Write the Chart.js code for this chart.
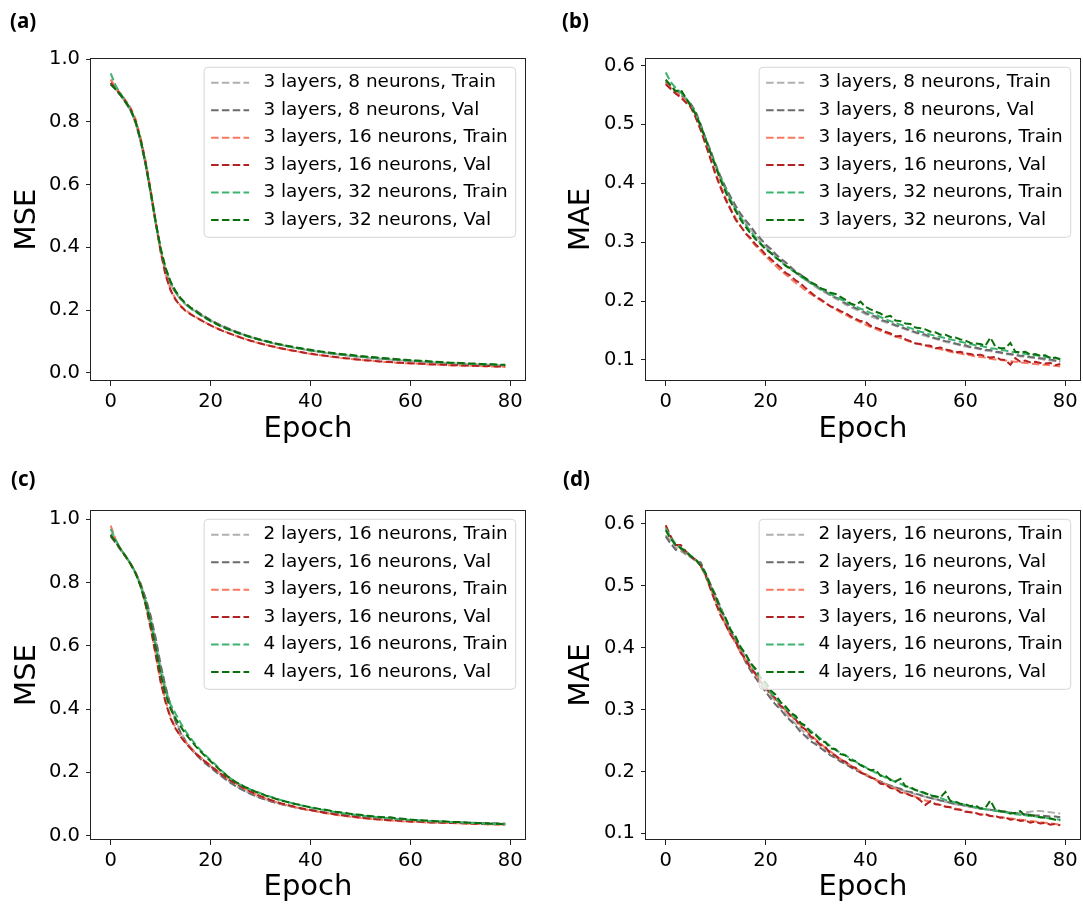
<!DOCTYPE html>
<html>
<head>
<meta charset="utf-8">
<script src="https://cdn.jsdelivr.net/npm/chart.js@4.4.1/dist/chart.umd.min.js"></script>
<style>
  html, body { margin: 0; padding: 0; background: #fff; }
  body { width: 1083px; height: 907px; position: relative; overflow: hidden; }
  canvas { position: absolute; }
</style>
</head>
<body>
<canvas id="panel-a" width="541" height="453" style="left:0;top:0"></canvas>
<canvas id="panel-b" width="542" height="453" style="left:541px;top:0"></canvas>
<canvas id="panel-c" width="541" height="454" style="left:0;top:453px"></canvas>
<canvas id="panel-d" width="542" height="454" style="left:541px;top:453px"></canvas>
<script>
const epochs = [0, 1, 2, 3, 4, 5, 6, 7, 8, 9, 10, 11, 12, 13, 14, 15, 16, 17, 18, 19,
  20, 21, 22, 23, 24, 25, 26, 27, 28, 29, 30, 31, 32, 33, 34, 35, 36, 37, 38, 39,
  40, 41, 42, 43, 44, 45, 46, 47, 48, 49, 50, 51, 52, 53, 54, 55, 56, 57, 58, 59,
  60, 61, 62, 63, 64, 65, 66, 67, 68, 69, 70, 71, 72, 73, 74, 75, 76, 77, 78, 79];

const xTicks = [0, 20, 40, 60, 80];
const mseTicks = [0.0, 0.2, 0.4, 0.6, 0.8, 1.0];
const maeTicks = [0.1, 0.2, 0.3, 0.4, 0.5, 0.6];

const labelsTop = ["3 layers, 8 neurons, Train", "3 layers, 8 neurons, Val",
  "3 layers, 16 neurons, Train", "3 layers, 16 neurons, Val",
  "3 layers, 32 neurons, Train", "3 layers, 32 neurons, Val"];
const labelsBottom = ["2 layers, 16 neurons, Train", "2 layers, 16 neurons, Val",
  "3 layers, 16 neurons, Train", "3 layers, 16 neurons, Val",
  "4 layers, 16 neurons, Train", "4 layers, 16 neurons, Val"];

// (a) MSE, neurons sweep
const aTrain8 = [0.935, 0.905, 0.885, 0.862, 0.835, 0.795, 0.735, 0.66, 0.57, 0.475, 0.39, 0.325,
  0.282, 0.254, 0.233, 0.217, 0.205, 0.196, 0.186, 0.176, 0.167, 0.159, 0.151, 0.144,
  0.137, 0.131, 0.125, 0.119, 0.114, 0.109, 0.104, 0.1, 0.096, 0.092, 0.089, 0.085,
  0.082, 0.079, 0.076, 0.073, 0.07, 0.068, 0.065, 0.063, 0.061, 0.059, 0.057, 0.055,
  0.053, 0.051, 0.05, 0.048, 0.047, 0.045, 0.044, 0.043, 0.041, 0.04, 0.039, 0.038,
  0.037, 0.036, 0.035, 0.034, 0.033, 0.032, 0.031, 0.031, 0.03, 0.029, 0.028, 0.028,
  0.027, 0.026, 0.026, 0.025, 0.025, 0.024, 0.024, 0.023];
const aVal8 = [0.92, 0.903, 0.884, 0.861, 0.836, 0.797, 0.738, 0.662, 0.572, 0.478, 0.392, 0.327,
  0.284, 0.256, 0.236, 0.22, 0.208, 0.199, 0.188, 0.178, 0.168, 0.16, 0.152, 0.145,
  0.138, 0.132, 0.126, 0.12, 0.115, 0.11, 0.105, 0.101, 0.097, 0.093, 0.089, 0.086,
  0.083, 0.08, 0.077, 0.074, 0.071, 0.068, 0.066, 0.064, 0.062, 0.06, 0.058, 0.056,
  0.054, 0.052, 0.051, 0.049, 0.048, 0.046, 0.045, 0.044, 0.042, 0.041, 0.04, 0.039,
  0.038, 0.037, 0.036, 0.035, 0.034, 0.033, 0.032, 0.031, 0.03, 0.03, 0.029, 0.028,
  0.028, 0.027, 0.026, 0.026, 0.025, 0.025, 0.024, 0.024];
const aTrain16 = [0.935, 0.91, 0.89, 0.868, 0.845, 0.808, 0.75, 0.675, 0.585, 0.485, 0.39, 0.315,
  0.265, 0.235, 0.214, 0.199, 0.188, 0.178, 0.169, 0.16, 0.151, 0.144, 0.137, 0.13,
  0.124, 0.118, 0.113, 0.107, 0.102, 0.097, 0.093, 0.089, 0.085, 0.081, 0.078, 0.075,
  0.071, 0.068, 0.066, 0.063, 0.06, 0.058, 0.056, 0.053, 0.051, 0.049, 0.047, 0.046,
  0.044, 0.042, 0.041, 0.039, 0.038, 0.037, 0.035, 0.034, 0.033, 0.032, 0.031, 0.03,
  0.029, 0.029, 0.028, 0.027, 0.026, 0.026, 0.025, 0.024, 0.024, 0.023, 0.023, 0.022,
  0.022, 0.021, 0.021, 0.02, 0.02, 0.02, 0.019, 0.019];
const aVal16 = [0.925, 0.905, 0.886, 0.864, 0.84, 0.8, 0.742, 0.668, 0.578, 0.48, 0.385, 0.31,
  0.262, 0.232, 0.212, 0.197, 0.186, 0.177, 0.168, 0.159, 0.151, 0.143, 0.136, 0.13,
  0.124, 0.118, 0.112, 0.107, 0.102, 0.098, 0.093, 0.089, 0.085, 0.082, 0.078, 0.075,
  0.072, 0.069, 0.066, 0.063, 0.061, 0.058, 0.056, 0.054, 0.052, 0.05, 0.048, 0.046,
  0.045, 0.043, 0.041, 0.04, 0.039, 0.037, 0.036, 0.035, 0.034, 0.033, 0.032, 0.031,
  0.03, 0.029, 0.029, 0.028, 0.027, 0.026, 0.026, 0.025, 0.024, 0.024, 0.023, 0.023,
  0.022, 0.022, 0.021, 0.021, 0.021, 0.02, 0.02, 0.02];
const aTrain32 = [0.955, 0.915, 0.89, 0.866, 0.84, 0.8, 0.74, 0.665, 0.575, 0.48, 0.395, 0.332,
  0.288, 0.258, 0.236, 0.219, 0.205, 0.194, 0.183, 0.173, 0.164, 0.156, 0.148, 0.141,
  0.135, 0.129, 0.123, 0.118, 0.113, 0.108, 0.104, 0.1, 0.096, 0.092, 0.089, 0.086,
  0.082, 0.079, 0.077, 0.074, 0.071, 0.069, 0.067, 0.064, 0.062, 0.06, 0.058, 0.057,
  0.055, 0.053, 0.052, 0.05, 0.049, 0.047, 0.046, 0.045, 0.043, 0.042, 0.041, 0.04,
  0.039, 0.038, 0.037, 0.036, 0.035, 0.034, 0.033, 0.032, 0.031, 0.031, 0.03, 0.029,
  0.028, 0.028, 0.027, 0.026, 0.026, 0.025, 0.025, 0.024];
const aVal32 = [0.92, 0.904, 0.886, 0.864, 0.839, 0.8, 0.742, 0.667, 0.577, 0.482, 0.397, 0.334,
  0.29, 0.26, 0.238, 0.221, 0.207, 0.196, 0.185, 0.175, 0.166, 0.157, 0.149, 0.142,
  0.136, 0.13, 0.124, 0.119, 0.114, 0.109, 0.105, 0.101, 0.097, 0.093, 0.09, 0.087,
  0.084, 0.081, 0.078, 0.075, 0.073, 0.07, 0.068, 0.066, 0.064, 0.062, 0.06, 0.058,
  0.057, 0.055, 0.053, 0.052, 0.05, 0.049, 0.047, 0.046, 0.045, 0.044, 0.042, 0.041,
  0.04, 0.039, 0.038, 0.038, 0.036, 0.035, 0.034, 0.033, 0.032, 0.032, 0.031, 0.03,
  0.029, 0.029, 0.028, 0.027, 0.027, 0.026, 0.025, 0.025];

// (b) MAE, neurons sweep
const bTrain8 = [0.575, 0.566, 0.558, 0.551, 0.543, 0.533, 0.518, 0.498, 0.475, 0.452, 0.43, 0.408,
  0.389, 0.372, 0.357, 0.344, 0.333, 0.322, 0.312, 0.302, 0.293, 0.285, 0.277, 0.269,
  0.262, 0.255, 0.248, 0.242, 0.236, 0.23, 0.224, 0.219, 0.214, 0.209, 0.204, 0.2,
  0.194, 0.19, 0.186, 0.182, 0.178, 0.174, 0.171, 0.167, 0.164, 0.161, 0.158, 0.155,
  0.152, 0.149, 0.146, 0.143, 0.141, 0.138, 0.136, 0.133, 0.131, 0.129, 0.127, 0.125,
  0.123, 0.121, 0.12, 0.118, 0.116, 0.115, 0.113, 0.112, 0.11, 0.109, 0.108, 0.106,
  0.105, 0.104, 0.103, 0.102, 0.1, 0.099, 0.098, 0.097];
const bVal8 = [0.572, 0.562, 0.556, 0.55, 0.541, 0.535, 0.522, 0.5, 0.476, 0.455, 0.432, 0.411,
  0.393, 0.377, 0.362, 0.348, 0.337, 0.327, 0.315, 0.306, 0.296, 0.289, 0.28, 0.272,
  0.266, 0.258, 0.25, 0.245, 0.238, 0.231, 0.227, 0.22, 0.216, 0.21, 0.206, 0.203,
  0.196, 0.193, 0.188, 0.185, 0.18, 0.176, 0.174, 0.168, 0.166, 0.163, 0.159, 0.157,
  0.153, 0.151, 0.147, 0.145, 0.143, 0.139, 0.137, 0.135, 0.132, 0.131, 0.128, 0.126,
  0.125, 0.122, 0.121, 0.119, 0.117, 0.117, 0.114, 0.113, 0.111, 0.11, 0.109, 0.107,
  0.107, 0.105, 0.104, 0.103, 0.102, 0.101, 0.099, 0.098];
const bTrain16 = [0.57, 0.562, 0.555, 0.548, 0.54, 0.529, 0.512, 0.49, 0.466, 0.442, 0.418, 0.395,
  0.375, 0.357, 0.341, 0.327, 0.315, 0.304, 0.294, 0.285, 0.276, 0.268, 0.26, 0.252,
  0.245, 0.238, 0.231, 0.225, 0.218, 0.212, 0.207, 0.201, 0.196, 0.191, 0.186, 0.181,
  0.177, 0.172, 0.168, 0.164, 0.16, 0.156, 0.153, 0.149, 0.146, 0.143, 0.14, 0.137,
  0.134, 0.131, 0.129, 0.126, 0.124, 0.122, 0.12, 0.118, 0.116, 0.114, 0.112, 0.111,
  0.109, 0.108, 0.106, 0.105, 0.104, 0.102, 0.101, 0.1, 0.099, 0.098, 0.097, 0.096,
  0.095, 0.094, 0.093, 0.092, 0.092, 0.091, 0.09, 0.089];
const bVal16 = [0.568, 0.56, 0.552, 0.546, 0.537, 0.53, 0.512, 0.491, 0.466, 0.44, 0.414, 0.392,
  0.372, 0.355, 0.338, 0.327, 0.315, 0.307, 0.296, 0.289, 0.279, 0.272, 0.264, 0.257,
  0.248, 0.243, 0.235, 0.23, 0.222, 0.215, 0.208, 0.203, 0.197, 0.191, 0.188, 0.183,
  0.18, 0.174, 0.17, 0.166, 0.165, 0.158, 0.155, 0.152, 0.148, 0.145, 0.14, 0.141,
  0.135, 0.132, 0.128, 0.127, 0.125, 0.124, 0.12, 0.121, 0.118, 0.116, 0.113, 0.114,
  0.111, 0.11, 0.108, 0.109, 0.106, 0.104, 0.105, 0.101, 0.1, 0.092, 0.103, 0.097,
  0.099, 0.096, 0.097, 0.095, 0.094, 0.095, 0.091, 0.093];
const bTrain32 = [0.588, 0.572, 0.562, 0.554, 0.545, 0.534, 0.518, 0.498, 0.475, 0.452, 0.43, 0.409,
  0.39, 0.372, 0.356, 0.342, 0.33, 0.318, 0.308, 0.298, 0.29, 0.282, 0.274, 0.267,
  0.26, 0.254, 0.248, 0.242, 0.236, 0.231, 0.226, 0.221, 0.216, 0.212, 0.207, 0.203,
  0.199, 0.195, 0.191, 0.187, 0.184, 0.18, 0.177, 0.173, 0.169, 0.166, 0.163, 0.16,
  0.157, 0.154, 0.151, 0.148, 0.146, 0.143, 0.141, 0.139, 0.137, 0.135, 0.133, 0.131,
  0.129, 0.127, 0.125, 0.124, 0.122, 0.12, 0.119, 0.117, 0.116, 0.114, 0.113, 0.112,
  0.11, 0.109, 0.108, 0.107, 0.105, 0.104, 0.103, 0.102];
const bVal32 = [0.576, 0.566, 0.556, 0.559, 0.545, 0.531, 0.517, 0.497, 0.474, 0.451, 0.428, 0.405,
  0.385, 0.368, 0.353, 0.338, 0.326, 0.315, 0.305, 0.297, 0.288, 0.282, 0.274, 0.268,
  0.26, 0.255, 0.249, 0.243, 0.239, 0.232, 0.228, 0.222, 0.219, 0.214, 0.212, 0.207,
  0.202, 0.196, 0.193, 0.199, 0.19, 0.186, 0.182, 0.179, 0.173, 0.175, 0.167, 0.166,
  0.162, 0.161, 0.155, 0.154, 0.152, 0.148, 0.147, 0.143, 0.143, 0.139, 0.138, 0.135,
  0.133, 0.129, 0.128, 0.127, 0.124, 0.138, 0.123, 0.12, 0.12, 0.129, 0.114, 0.113,
  0.114, 0.109, 0.11, 0.107, 0.108, 0.103, 0.104, 0.101];

// (c) MSE, layers sweep
const cTrain2 = [0.955, 0.93, 0.905, 0.883, 0.86, 0.83, 0.795, 0.748, 0.69, 0.62, 0.535, 0.468,
  0.41, 0.363, 0.328, 0.3, 0.279, 0.261, 0.246, 0.232, 0.218, 0.204, 0.192, 0.18,
  0.169, 0.158, 0.149, 0.14, 0.133, 0.126, 0.12, 0.114, 0.109, 0.105, 0.1, 0.097,
  0.093, 0.09, 0.087, 0.084, 0.081, 0.079, 0.076, 0.074, 0.072, 0.07, 0.068, 0.066,
  0.065, 0.063, 0.061, 0.06, 0.058, 0.057, 0.056, 0.054, 0.053, 0.052, 0.051, 0.05,
  0.049, 0.048, 0.047, 0.047, 0.046, 0.045, 0.044, 0.044, 0.043, 0.043, 0.042, 0.042,
  0.041, 0.041, 0.04, 0.04, 0.04, 0.039, 0.039, 0.039];
const cVal2 = [0.945, 0.925, 0.903, 0.882, 0.858, 0.83, 0.797, 0.75, 0.695, 0.625, 0.54, 0.47,
  0.41, 0.36, 0.325, 0.297, 0.276, 0.258, 0.242, 0.228, 0.215, 0.202, 0.19, 0.178,
  0.167, 0.157, 0.148, 0.14, 0.132, 0.125, 0.119, 0.114, 0.109, 0.104, 0.1, 0.096,
  0.093, 0.089, 0.086, 0.083, 0.081, 0.078, 0.076, 0.073, 0.071, 0.069, 0.067, 0.066,
  0.064, 0.062, 0.061, 0.059, 0.058, 0.057, 0.055, 0.054, 0.053, 0.052, 0.051, 0.05,
  0.049, 0.048, 0.047, 0.046, 0.046, 0.045, 0.044, 0.044, 0.043, 0.042, 0.042, 0.041,
  0.041, 0.04, 0.04, 0.04, 0.039, 0.039, 0.038, 0.038];
const cTrain3 = [0.98, 0.935, 0.905, 0.882, 0.86, 0.832, 0.79, 0.73, 0.66, 0.575, 0.49, 0.425,
  0.375, 0.34, 0.315, 0.295, 0.278, 0.262, 0.248, 0.235, 0.222, 0.209, 0.197, 0.186,
  0.175, 0.165, 0.156, 0.147, 0.139, 0.131, 0.124, 0.118, 0.112, 0.107, 0.102, 0.098,
  0.094, 0.09, 0.087, 0.083, 0.08, 0.077, 0.074, 0.071, 0.069, 0.066, 0.064, 0.062,
  0.06, 0.058, 0.056, 0.055, 0.053, 0.052, 0.051, 0.049, 0.048, 0.047, 0.046, 0.045,
  0.044, 0.044, 0.043, 0.042, 0.042, 0.041, 0.041, 0.04, 0.04, 0.039, 0.039, 0.038,
  0.038, 0.037, 0.037, 0.036, 0.036, 0.035, 0.035, 0.035];
const cVal3 = [0.95, 0.928, 0.904, 0.882, 0.858, 0.83, 0.788, 0.728, 0.655, 0.572, 0.485, 0.42,
  0.37, 0.338, 0.313, 0.293, 0.276, 0.26, 0.246, 0.233, 0.22, 0.208, 0.196, 0.185,
  0.174, 0.165, 0.156, 0.147, 0.139, 0.132, 0.125, 0.119, 0.113, 0.108, 0.103, 0.099,
  0.095, 0.091, 0.087, 0.084, 0.081, 0.078, 0.075, 0.072, 0.07, 0.067, 0.065, 0.063,
  0.061, 0.059, 0.057, 0.055, 0.054, 0.052, 0.051, 0.05, 0.049, 0.048, 0.047, 0.046,
  0.045, 0.044, 0.044, 0.043, 0.042, 0.042, 0.041, 0.041, 0.04, 0.04, 0.039, 0.039,
  0.038, 0.038, 0.037, 0.037, 0.036, 0.036, 0.036, 0.035];
const cTrain4 = [0.97, 0.935, 0.906, 0.883, 0.86, 0.83, 0.79, 0.738, 0.675, 0.6, 0.52, 0.455,
  0.415, 0.385, 0.356, 0.33, 0.308, 0.288, 0.27, 0.254, 0.239, 0.224, 0.208, 0.194,
  0.181, 0.17, 0.161, 0.153, 0.146, 0.14, 0.134, 0.128, 0.123, 0.118, 0.113, 0.108,
  0.104, 0.1, 0.096, 0.093, 0.089, 0.086, 0.083, 0.081, 0.078, 0.074, 0.072, 0.07,
  0.068, 0.066, 0.064, 0.062, 0.06, 0.059, 0.057, 0.056, 0.055, 0.053, 0.052, 0.051,
  0.05, 0.049, 0.048, 0.047, 0.046, 0.045, 0.045, 0.044, 0.043, 0.042, 0.042, 0.041,
  0.04, 0.04, 0.039, 0.038, 0.038, 0.037, 0.037, 0.036];
const cVal4 = [0.95, 0.93, 0.905, 0.883, 0.858, 0.828, 0.788, 0.735, 0.672, 0.595, 0.51, 0.445,
  0.4, 0.37, 0.345, 0.322, 0.302, 0.283, 0.266, 0.25, 0.235, 0.22, 0.206, 0.193,
  0.18, 0.17, 0.161, 0.153, 0.146, 0.139, 0.133, 0.127, 0.122, 0.117, 0.112, 0.108,
  0.104, 0.1, 0.097, 0.093, 0.09, 0.087, 0.084, 0.082, 0.079, 0.076, 0.074, 0.073,
  0.069, 0.067, 0.066, 0.063, 0.062, 0.06, 0.059, 0.058, 0.058, 0.055, 0.054, 0.053,
  0.051, 0.05, 0.049, 0.048, 0.048, 0.046, 0.046, 0.045, 0.044, 0.043, 0.043, 0.042,
  0.041, 0.04, 0.04, 0.039, 0.038, 0.038, 0.037, 0.036];

// (d) MAE, layers sweep
const dTrain2 = [0.582, 0.572, 0.562, 0.556, 0.551, 0.546, 0.541, 0.534, 0.518, 0.5, 0.48, 0.461,
  0.443, 0.427, 0.413, 0.399, 0.385, 0.371, 0.358, 0.346, 0.334, 0.323, 0.313, 0.303,
  0.294, 0.285, 0.277, 0.269, 0.261, 0.254, 0.247, 0.241, 0.235, 0.229, 0.223, 0.218,
  0.213, 0.208, 0.204, 0.199, 0.195, 0.191, 0.187, 0.184, 0.18, 0.177, 0.174, 0.171,
  0.168, 0.166, 0.163, 0.161, 0.159, 0.157, 0.155, 0.153, 0.151, 0.149, 0.147, 0.146,
  0.144, 0.143, 0.141, 0.14, 0.139, 0.138, 0.137, 0.136, 0.135, 0.134, 0.133, 0.133,
  0.134, 0.135, 0.136, 0.136, 0.135, 0.134, 0.133, 0.132];
const dVal2 = [0.58, 0.568, 0.558, 0.56, 0.552, 0.547, 0.54, 0.538, 0.52, 0.502, 0.485, 0.465,
  0.446, 0.428, 0.41, 0.393, 0.377, 0.363, 0.351, 0.34, 0.329, 0.318, 0.308, 0.3,
  0.29, 0.282, 0.274, 0.264, 0.257, 0.249, 0.244, 0.238, 0.232, 0.226, 0.222, 0.216,
  0.212, 0.207, 0.202, 0.199, 0.194, 0.191, 0.186, 0.184, 0.18, 0.177, 0.174, 0.172,
  0.168, 0.167, 0.164, 0.162, 0.159, 0.157, 0.156, 0.153, 0.152, 0.149, 0.148, 0.146,
  0.145, 0.143, 0.142, 0.14, 0.139, 0.138, 0.137, 0.135, 0.135, 0.133, 0.133, 0.131,
  0.131, 0.13, 0.129, 0.129, 0.128, 0.127, 0.127, 0.126];
const dTrain3 = [0.595, 0.578, 0.567, 0.561, 0.554, 0.548, 0.542, 0.532, 0.515, 0.496, 0.475, 0.455,
  0.437, 0.421, 0.407, 0.393, 0.38, 0.368, 0.357, 0.346, 0.336, 0.326, 0.317, 0.308,
  0.299, 0.291, 0.283, 0.275, 0.267, 0.259, 0.252, 0.245, 0.238, 0.232, 0.226, 0.22,
  0.215, 0.21, 0.205, 0.2, 0.196, 0.191, 0.187, 0.183, 0.179, 0.175, 0.172, 0.168,
  0.165, 0.162, 0.159, 0.156, 0.153, 0.151, 0.148, 0.146, 0.144, 0.142, 0.14, 0.138,
  0.136, 0.134, 0.133, 0.131, 0.13, 0.128, 0.127, 0.126, 0.125, 0.124, 0.123, 0.122,
  0.121, 0.12, 0.119, 0.118, 0.117, 0.116, 0.115, 0.114];
const dVal3 = [0.598, 0.58, 0.566, 0.566, 0.556, 0.548, 0.542, 0.533, 0.517, 0.494, 0.472, 0.452,
  0.437, 0.421, 0.41, 0.392, 0.382, 0.366, 0.358, 0.344, 0.337, 0.325, 0.318, 0.306,
  0.3, 0.29, 0.284, 0.273, 0.268, 0.257, 0.251, 0.243, 0.239, 0.229, 0.226, 0.218,
  0.216, 0.208, 0.206, 0.198, 0.195, 0.19, 0.188, 0.18, 0.179, 0.173, 0.172, 0.166,
  0.165, 0.161, 0.159, 0.153, 0.146, 0.152, 0.147, 0.146, 0.143, 0.142, 0.139, 0.138,
  0.135, 0.134, 0.133, 0.13, 0.131, 0.128, 0.128, 0.125, 0.126, 0.122, 0.123, 0.12,
  0.121, 0.117, 0.119, 0.116, 0.117, 0.114, 0.115, 0.113];
const dTrain4 = [0.593, 0.578, 0.568, 0.562, 0.555, 0.549, 0.542, 0.533, 0.518, 0.5, 0.481, 0.463,
  0.446, 0.43, 0.416, 0.402, 0.389, 0.375, 0.362, 0.35, 0.338, 0.328, 0.319, 0.31,
  0.302, 0.294, 0.287, 0.279, 0.272, 0.266, 0.259, 0.253, 0.247, 0.241, 0.235, 0.23,
  0.226, 0.221, 0.216, 0.211, 0.207, 0.202, 0.198, 0.194, 0.19, 0.187, 0.183, 0.18,
  0.176, 0.173, 0.17, 0.167, 0.164, 0.162, 0.159, 0.157, 0.154, 0.152, 0.15, 0.148,
  0.146, 0.144, 0.142, 0.141, 0.139, 0.138, 0.136, 0.135, 0.134, 0.132, 0.131, 0.13,
  0.129, 0.128, 0.127, 0.126, 0.125, 0.124, 0.123, 0.122];
const dVal4 = [0.59, 0.576, 0.566, 0.561, 0.556, 0.548, 0.543, 0.532, 0.52, 0.499, 0.483, 0.46,
  0.448, 0.428, 0.418, 0.4, 0.39, 0.375, 0.366, 0.352, 0.344, 0.331, 0.324, 0.312,
  0.305, 0.295, 0.29, 0.278, 0.274, 0.263, 0.26, 0.25, 0.247, 0.237, 0.236, 0.228,
  0.226, 0.218, 0.217, 0.21, 0.206, 0.202, 0.203, 0.193, 0.193, 0.186, 0.184, 0.188,
  0.176, 0.175, 0.17, 0.168, 0.165, 0.161, 0.16, 0.158, 0.167, 0.152, 0.151, 0.148,
  0.147, 0.144, 0.145, 0.14, 0.141, 0.153, 0.138, 0.136, 0.135, 0.132, 0.133, 0.136,
  0.128, 0.13, 0.127, 0.126, 0.125, 0.124, 0.122, 0.121];

const lineColors = ["#b0b0b0", "#6b6b6b", "#f9785f", "#b22222", "#3cb371", "#0a6e0a"];
const FONT = "'DejaVu Sans', 'Liberation Sans', sans-serif";

// frame on all four sides, matplotlib style legend box, panel tag
const framePlugin = {
  id: "frame",
  afterDraw(chart, args, opts) {
    const { ctx, chartArea: a } = chart;
    ctx.save();
    ctx.strokeStyle = "#222";
    ctx.lineWidth = 1;
    ctx.setLineDash([]);
    ctx.strokeRect(Math.round(a.left) - 0.5, Math.round(a.top) + 0.5,
      Math.round(a.right - a.left) + 1, Math.round(a.bottom - a.top) - 1);

    const sets = chart.data.datasets;
    ctx.font = "18.4px " + FONT;
    const textW = Math.max(...sets.map(d => ctx.measureText(d.label).width));
    const right = a.right - 9.3, top = a.top + 9.3;
    const w = textW + 67.3, h = 170;
    const left = right - w;
    ctx.beginPath();
    ctx.roundRect(left, top, w, h, 4);
    ctx.fillStyle = "rgba(255,255,255,0.8)";
    ctx.fill();
    ctx.strokeStyle = "#d6d6d6";
    ctx.stroke();

    ctx.textBaseline = "middle";
    ctx.textAlign = "left";
    sets.forEach((d, i) => {
      const y = top + 15.4 + i * 27.47;
      ctx.beginPath();
      ctx.setLineDash([7.5, 3.3]);
      ctx.strokeStyle = d.borderColor;
      ctx.lineWidth = 2;
      ctx.moveTo(left + 7, y);
      ctx.lineTo(left + 45, y);
      ctx.stroke();
      ctx.fillStyle = "#000";
      ctx.fillText(d.label, left + 59.3, y);
    });

    ctx.setLineDash([]);
    ctx.font = "bold 20.5px 'Noto Sans', 'DejaVu Sans', sans-serif";
    ctx.fillStyle = "#000";
    ctx.fillText(opts.tag, opts.tagX, opts.tagY);
    ctx.restore();
  }
};

function makePanel(id, cfg) {
  const datasets = cfg.series.map((s, i) => ({
    label: cfg.labels[i],
    data: s,
    borderColor: lineColors[i],
    backgroundColor: lineColors[i],
    borderWidth: 2,
    borderDash: [7.5, 3.3],
    pointRadius: 0,
    tension: 0,
    fill: false,
    order: cfg.series.length - i
  }));

  new Chart(document.getElementById(id), {
    type: "line",
    data: { labels: epochs, datasets },
    plugins: [framePlugin],
    options: {
      responsive: false,
      animation: false,
      devicePixelRatio: 1,
      layout: { padding: { top: cfg.top, right: cfg.right, left: 0, bottom: 0 } },
      plugins: {
        legend: { display: false },
        tooltip: { enabled: false },
        frame: { tag: cfg.tag, tagX: cfg.tagX, tagY: cfg.tagY }
      },
      scales: {
        x: {
          type: "linear",
          min: -3.95,
          max: 82.95,
          afterBuildTicks: s => { s.ticks = xTicks.map(v => ({ value: v })); },
          afterFit: s => { s.height = cfg.xHeight; s.paddingLeft = 0; s.paddingRight = 0; },
          ticks: { color: "#000", font: { family: FONT, size: 19.5 }, padding: 4,
            maxRotation: 0, callback: v => String(v) },
          grid: { drawOnChartArea: false, tickLength: 5, tickColor: "#222", color: "#222" },
          border: { display: false },
          title: { display: true, text: "Epoch", color: "#000",
            font: { family: FONT, size: 29, lineHeight: 1.2 },
            padding: { top: 0, bottom: cfg.xTitlePad } }
        },
        y: {
          min: cfg.yMin,
          max: cfg.yMax,
          afterBuildTicks: s => { s.ticks = cfg.yTicks.map(v => ({ value: v })); },
          afterFit: s => { s.width = cfg.yWidth; s.paddingTop = 0; s.paddingBottom = 0; },
          ticks: { color: "#000", font: { family: FONT, size: 19.5 }, padding: 6,
            callback: v => v.toFixed(1) },
          grid: { drawOnChartArea: false, tickLength: 5, tickColor: "#222", color: "#222" },
          border: { display: false },
          title: { display: true, text: cfg.yTitle, color: "#000",
            font: { family: FONT, size: 29, lineHeight: 1.2 },
            padding: { top: cfg.yTitlePad, bottom: 0 } }
        }
      }
    }
  });
}

makePanel("panel-a", {
  series: [aTrain8, aVal8, aTrain16, aVal16, aTrain32, aVal32], labels: labelsTop,
  yMin: -0.0265, yMax: 1.004, yTicks: mseTicks, yTitle: "MSE",
  top: 58, right: 16, yWidth: 91, xHeight: 72, yTitlePad: 9.6, xTitlePad: 6.6,
  tag: "(a)", tagX: 10, tagY: 22
});
makePanel("panel-b", {
  series: [bTrain8, bVal8, bTrain16, bVal16, bTrain32, bVal32], labels: labelsTop,
  yMin: 0.0643, yMax: 0.6127, yTicks: maeTicks, yTitle: "MAE",
  top: 58, right: 3, yWidth: 105, xHeight: 72, yTitlePad: 22.6, xTitlePad: 6.6,
  tag: "(b)", tagX: 21, tagY: 22
});
makePanel("panel-c", {
  series: [cTrain2, cVal2, cTrain3, cVal3, cTrain4, cVal4], labels: labelsBottom,
  yMin: -0.0136, yMax: 1.0294, yTicks: mseTicks, yTitle: "MSE",
  top: 57, right: 16, yWidth: 91, xHeight: 67, yTitlePad: 9.6, xTitlePad: 2.4,
  tag: "(c)", tagX: 11, tagY: 27
});
makePanel("panel-d", {
  series: [dTrain2, dVal2, dTrain3, dVal3, dTrain4, dVal4], labels: labelsBottom,
  yMin: 0.0892, yMax: 0.6226, yTicks: maeTicks, yTitle: "MAE",
  top: 57, right: 3, yWidth: 105, xHeight: 67, yTitlePad: 22.6, xTitlePad: 2.4,
  tag: "(d)", tagX: 22, tagY: 27
});
</script>
</body>
</html>
